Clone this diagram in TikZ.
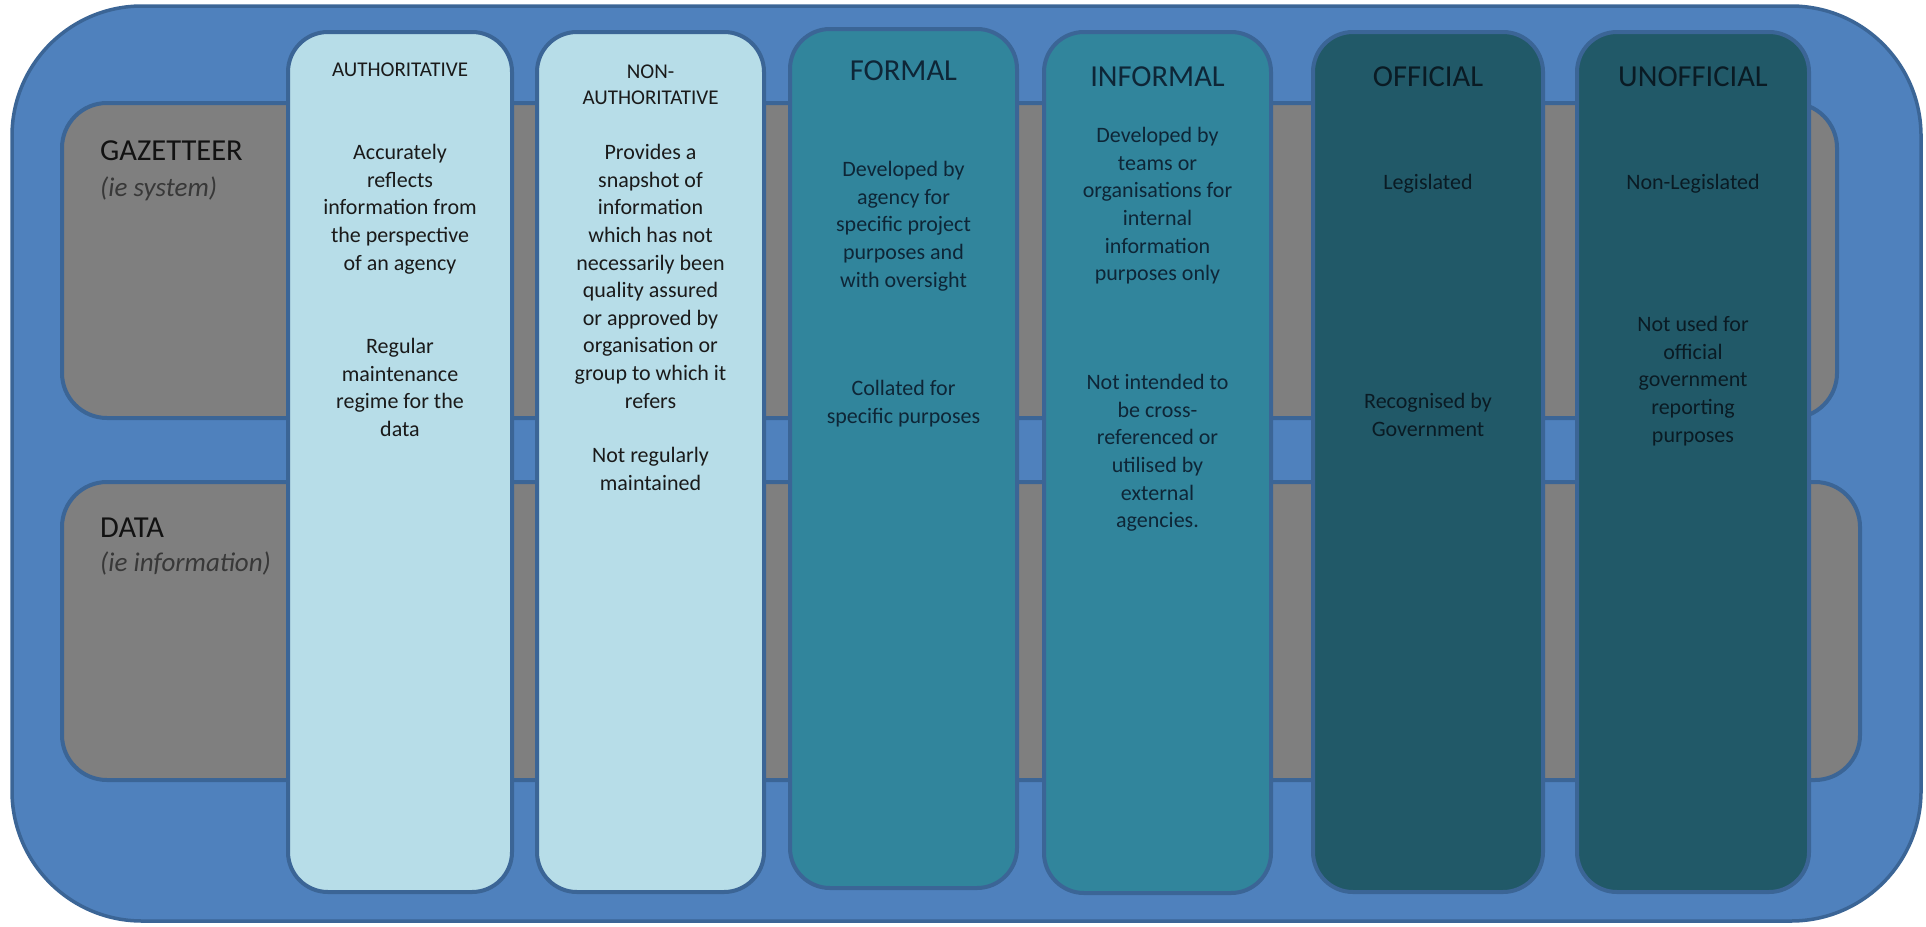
\documentclass[tikz,border=0pt]{standalone}
\usepackage{fontspec}
\setmainfont{Carlito}
\definecolor{outerfill}{HTML}{4F81BD}
\definecolor{edgeblue}{HTML}{3B6596}
\definecolor{bandgray}{HTML}{7F7F7F}
\definecolor{lightcol}{HTML}{B7DDE8}
\definecolor{tealcol}{HTML}{31859C}
\definecolor{darkcol}{HTML}{215968}
\definecolor{txtlight}{HTML}{1A1A1A}
\definecolor{txtteal}{HTML}{0E2637}
\definecolor{txtdark}{HTML}{0A1B24}
\begin{document}
\begin{tikzpicture}[x=1pt,y=-1pt,
  frame/.style={draw=edgeblue,line width=3.5pt,fill=outerfill,rounded corners=130pt,inner sep=0pt,outer sep=0pt},
  band/.style={draw=edgeblue,line width=4pt,fill=bandgray,rounded corners=45pt,inner sep=0pt,outer sep=0pt},
  colbox/.style={draw=edgeblue,line width=4pt,rounded corners=40pt,inner sep=0pt,outer sep=0pt},
  bigtitle/.style={font=\fontsize{30.5}{36}\selectfont,anchor=base,inner sep=0pt},
  smalltitle/.style={font=\fontsize{21}{26}\selectfont,align=center,anchor=north,inner sep=0pt},
  body/.style={font=\fontsize{22}{27.6}\selectfont,align=center,anchor=north,inner sep=0pt},
  rowtitle/.style={font=\fontsize{30.5}{36}\selectfont,anchor=base west,inner sep=0pt,text=black!93},
  rownote/.style={font=\fontsize{27}{32}\selectfont\itshape,anchor=base west,inner sep=0pt,text=black!78},
]
\useasboundingbox (0,0) rectangle (1926,926);
% outer frame
\node[frame,minimum width=1909pt,minimum height=915pt] (outer) at (966.5,463.5) {};
% horizontal bands
\node[band,minimum width=1775pt,minimum height=315pt] (gazband) at (949.5,260.5) {};
\node[band,minimum width=1798pt,minimum height=298pt] (databand) at (961,631) {};
% columns
\node[colbox,fill=lightcol,minimum width=224pt,minimum height=860pt] (c1) at (400,462) {};
\node[colbox,fill=lightcol,minimum width=227pt,minimum height=860pt] (c2) at (650.5,462) {};
\node[colbox,fill=tealcol,minimum width=227pt,minimum height=859pt] (c3) at (903.5,458.5) {};
\node[colbox,fill=tealcol,minimum width=227pt,minimum height=861pt] (c4) at (1157.5,462.5) {};
\node[colbox,fill=darkcol,minimum width=230pt,minimum height=860pt] (c5) at (1428,462) {};
\node[colbox,fill=darkcol,minimum width=232pt,minimum height=860pt] (c6) at (1693,462) {};
% row labels
\node[rowtitle] (gaz) at (100,160) {GAZETTEER};
\node[rownote] (gazn) at (100,196) {(ie system)};
\node[rowtitle] (dat) at (100,537) {DATA};
\node[rownote] (datn) at (100,571) {(ie information)};
% column 1
\node[smalltitle,text=txtlight] (t1) at (400,58.5) {\strut AUTHORITATIVE};
\node[body,text=txtlight] (p1a) at (400,140.2) {\strut Accurately\\reflects\\information from\\the perspective\\of an agency};
\node[body,text=txtlight] (p1b) at (400,334.2) {\strut Regular\\maintenance\\regime for the\\data};
% column 2
\node[smalltitle,text=txtlight] (t2) at (650.5,60.5) {\strut NON-\\AUTHORITATIVE};
\node[body,text=txtlight] (p2a) at (650.5,140.2) {\strut Provides a\\snapshot of\\information\\which has not\\necessarily been\\quality assured\\or approved by\\organisation or\\group to which it\\refers};
\node[body,text=txtlight] (p2b) at (650.5,443.2) {\strut Not regularly\\maintained};
% column 3
\node[bigtitle,text=txtteal] (t3) at (903.5,80.7) {FORMAL};
\node[body,text=txtteal] (p3a) at (903.5,157.2) {\strut Developed by\\agency for\\specific project\\purposes and\\with oversight};
\node[body,text=txtteal] (p3b) at (903.5,376.2) {\strut Collated for\\specific purposes};
% column 4
\node[bigtitle,text=txtteal] (t4) at (1157.5,86.7) {INFORMAL};
\node[body,text=txtteal] (p4a) at (1157.5,123.2) {\strut Developed by\\teams or\\organisations for\\internal\\information\\purposes only};
\node[body,text=txtteal] (p4b) at (1157.5,370.2) {\strut Not intended to\\be cross-\\referenced or\\utilised by\\external\\agencies.};
% column 5
\node[bigtitle,text=txtdark] (t5) at (1428,86.7) {OFFICIAL};
\node[body,text=txtdark] (p5a) at (1428,170.2) {\strut Legislated};
\node[body,text=txtdark] (p5b) at (1428,389.2) {\strut Recognised by\\Government};
% column 6
\node[bigtitle,text=txtdark] (t6) at (1693,86.7) {UNOFFICIAL};
\node[body,text=txtdark] (p6a) at (1693,170.2) {\strut Non-Legislated};
\node[body,text=txtdark] (p6b) at (1693,312.2) {\strut Not used for\\official\\government\\reporting\\purposes};
\end{tikzpicture}
\end{document}
